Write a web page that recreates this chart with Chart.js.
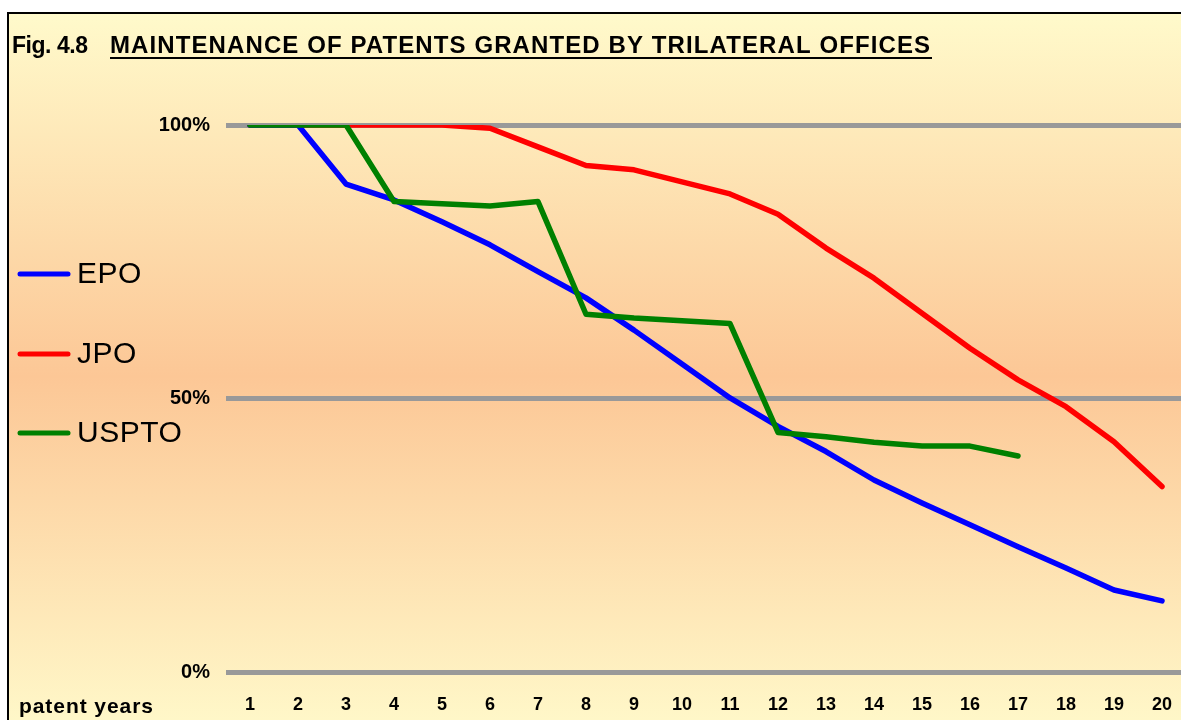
<!DOCTYPE html>
<html>
<head>
<meta charset="utf-8">
<script src="https://cdn.jsdelivr.net/npm/chart.js@4/dist/chart.umd.min.js"></script>
<style>
html,body{margin:0;padding:0;background:#fff;overflow:hidden;width:1181px;height:720px;}
#c{position:absolute;left:0;top:0;}
</style>
</head>
<body>
<canvas id="c" width="1200" height="720" style="width:1200px;height:720px"></canvas>
<script>
const years = ['1','2','3','4','5','6','7','8','9','10','11','12','13','14','15','16','17','18','19','20'];
const epo   = [100,100,89.2,86.3,82.3,78.1,73.2,68.4,62.5,56.3,50.1,44.9,40.3,35.1,30.9,26.9,22.9,19.0,15.0,13.0];
const jpo   = [100,100,100,100,100,99.4,96.0,92.6,91.8,89.6,87.4,83.7,77.5,72.0,65.6,59.2,53.4,48.5,42.1,33.9];
const uspto = [100,100,100,86.0,85.6,85.2,86.0,65.4,64.7,64.2,63.7,43.8,43.0,42.0,41.3,41.3,39.5];
const yTicks = [0,50,100];
const seriesNames = ['EPO','JPO','USPTO'];
const seriesColors = ['#0000FF','#FF0000','#008000'];
const titleFig = 'Fig. 4.8';
const titleMain = 'MAINTENANCE OF PATENTS GRANTED BY TRILATERAL OFFICES';
const xAxisName = 'patent years';

const FONT = '"Liberation Sans", Arial, sans-serif';

function fitText(ctx, text, x, y, targetW){
  ctx.letterSpacing = '0px';
  const w = ctx.measureText(text).width;
  const sp = text.length > 1 ? (targetW - w) / (text.length - 1) : 0;
  ctx.letterSpacing = sp.toFixed(2) + 'px';
  ctx.fillText(text, x, y);
  ctx.letterSpacing = '0px';
}

const bgPlugin = {
  id: 'bg',
  beforeDraw(chart){
    const ctx = chart.ctx;
    ctx.save();
    ctx.fillStyle = '#ffffff';
    ctx.fillRect(0,0,chart.width,chart.height);
    const g = ctx.createLinearGradient(0,13,0,740);
    g.addColorStop(0,'#FFFACB');
    g.addColorStop(0.5,'#FCC796');
    g.addColorStop(1,'#FFFACB');
    ctx.fillStyle = g;
    ctx.fillRect(8,13,1300,800);
    ctx.strokeStyle = '#000';
    ctx.lineWidth = 2;
    ctx.strokeRect(8,13,1300,800);
    ctx.restore();
  },
  afterDraw(chart){
    const ctx = chart.ctx;
    ctx.save();
    ctx.fillStyle = '#000';
    ctx.textBaseline = 'alphabetic';
    ctx.textAlign = 'left';
    ctx.font = 'bold 23px ' + FONT;
    fitText(ctx, titleFig, 12, 53, 76);
    ctx.font = 'bold 24px ' + FONT;
    fitText(ctx, titleMain, 110, 53, 820);
    ctx.fillRect(110, 57, 822, 2);
    ctx.font = 'bold 21px ' + FONT;
    fitText(ctx, xAxisName, 19, 713, 134);
    // legend
    const ly = [274, 354, 433];
    for (let i = 0; i < seriesNames.length; i++){
      ctx.strokeStyle = seriesColors[i];
      ctx.lineWidth = 5;
      ctx.lineCap = 'round';
      ctx.beginPath();
      ctx.moveTo(20, ly[i]);
      ctx.lineTo(68, ly[i]);
      ctx.stroke();
      ctx.fillStyle = '#000';
      ctx.font = '30px ' + FONT;
      ctx.textBaseline = 'middle';
      ctx.letterSpacing = '0.5px';
      ctx.fillText(seriesNames[i], 77, ly[i] + 1);
      ctx.letterSpacing = '0px';
    }
    ctx.restore();
  }
};

const mk = (label, data, color, order) => ({
  label, data, borderColor: color, backgroundColor: color,
  borderWidth: 5.5, pointRadius: 0, pointHoverRadius: 0, tension: 0,
  borderCapStyle: 'round', borderJoinStyle: 'round', fill: false, order
});

new Chart(document.getElementById('c'), {
  type: 'line',
  data: {
    labels: years,
    datasets: [
      mk(seriesNames[0], epo, seriesColors[0], 1),
      mk(seriesNames[1], jpo, seriesColors[1], 2),
      mk(seriesNames[2], uspto, seriesColors[2], 0)
    ]
  },
  options: {
    responsive: false,
    animation: false,
    devicePixelRatio: 1,
    layout: { padding: { top: 125, right: 14, bottom: 0, left: 0 } },
    plugins: { legend: { display: false }, title: { display: false }, tooltip: { enabled: false } },
    scales: {
      x: {
        offset: true,
        grid: { display: false, drawTicks: false },
        border: { display: false },
        ticks: { color: '#000', font: { family: FONT, size: 18, weight: 'bold' }, padding: 22, maxRotation: 0, autoSkip: false },
        afterFit(s){ s.height = 48; }
      },
      y: {
        min: 0, max: 100,
        afterBuildTicks(s){ s.ticks = yTicks.map(v => ({ value: v })); },
        grid: { color: '#999999', lineWidth: 5, drawTicks: false },
        border: { display: false },
        ticks: { color: '#000', font: { family: FONT, size: 20, weight: 'bold' }, padding: 16, callback: v => v + '%' },
        afterFit(s){ s.width = 226; }
      }
    }
  },
  plugins: [bgPlugin]
});
</script>
</body>
</html>
